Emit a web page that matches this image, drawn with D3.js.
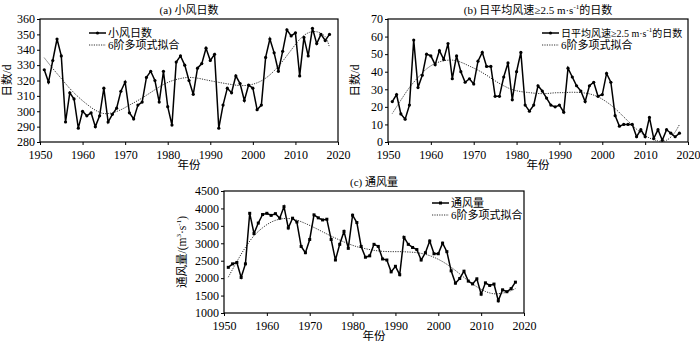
<!DOCTYPE html>
<html><head><meta charset="utf-8">
<script src="https://cdn.jsdelivr.net/npm/d3@7"></script>
<style>
body{margin:0;background:#fff;}
svg{font-family:"Liberation Serif","Noto Sans CJK SC",serif;}
</style></head>
<body><svg id="c" width="700" height="345"></svg>
<script>
const years = d3.range(1951, 2019);
const xTicks = [1950,1960,1970,1980,1990,2000,2010,2020];

const calmDays = [327,319,333,347,336,293,312,308,289,300,297,299,290,297,315,293,298,302,313,319,
299,295,304,306,322,326,320,306,326,303,291,332,336,330,320,311,328,331,341,333,
337,289,304,315,312,323,318,307,317,315,301,304,335,347,338,326,339,353,349,351,
323,348,336,354,344,350,346,350];
const calmFitYears = [1951,1953,1955,1957,1959,1961,1963,1965,1967,1969,1971,1973,1975,1977,1979,1981,1983,1985,1987,1989,1991,1993,1995,1997,1999,2001,2003,2005,2007,2009,2011,2013,2015,2017,2018];
const calmFit = [334.8,327.8,321.3,314.8,309.3,304.6,300.7,298.5,299,301,304,307,310.4,314,317.4,319.8,321.3,322,321.5,320.4,319.3,318.3,317.4,316.7,317,318.5,321.5,326.3,332.6,339.8,346.7,351,351.7,348.5,341.5];
const calmTicks = [280,290,300,310,320,330,340,350,360];

const windyDays = [23,27,16,13,21,58,31,38,50,49,44,52,47,56,36,49,40,34,36,33,
46,51,43,43,26,26,37,45,24,40,51,21,17.5,21,32,29,25,21,20,21,
17,42,37,32,29,23,32,34,26,27,39,34,15,9,10,10,10,3,7,3,
14,2,7,1,7,5,3,5];
const windyFitYears = [1951,1953,1955,1957,1959,1961,1963,1965,1967,1969,1971,1973,1975,1977,1979,1981,1983,1985,1987,1989,1991,1993,1995,1997,1999,2001,2003,2005,2007,2009,2011,2013,2014,2015,2016,2017,2018];
const windyFit = [16.2,23.8,31,36.7,41.6,44.7,46.2,46.6,45.4,43.2,40.9,38,34.8,32,29.8,28.7,28.1,27.6,27.6,28,28.1,28.3,28.1,27.4,25.7,22.8,19,14.3,9.5,5.3,2.3,0.6,0.2,1,2.8,5.7,9.9];
const windyTicks = [0,10,20,30,40,50,60,70];

const ventilation = [2310,2410,2450,2020,2410,3860,3280,3580,3825,3860,3800,3850,3720,4050,3440,3720,3610,2910,2730,3110,
3815,3730,3670,3690,3110,2520,2970,3340,2855,3805,3595,2910,2600,2640,2970,2910,2550,2520,2180,2340,
2100,3170,2970,2880,2820,2520,2730,3065,2700,2700,3005,2760,2210,1855,1990,2200,1915,1835,1980,1540,
1865,1790,1830,1350,1665,1610,1700,1885];
const ventFitYears = [1951,1953,1955,1957,1959,1961,1963,1965,1967,1969,1971,1973,1975,1977,1979,1981,1983,1985,1987,1989,1991,1993,1995,1997,1999,2001,2003,2005,2007,2009,2011,2013,2015,2016,2017,2018];
const ventFit = [2027,2474,2883,3216,3444,3606,3692,3711,3663,3568,3454,3330,3206,3092,2988,2902,2845,2798,2769,2760,2760,2750,2731,2683,2598,2474,2312,2122,1922,1751,1618,1551,1570,1600,1640,1700];
const ventTicks = [1000,1500,2000,2500,3000,3500,4000,4500];

const svg = d3.select("#c");

function panel(o){
  const g = svg.append("g");
  const x = d3.scaleLinear().domain([1950,2020]).range([o.x0,o.x1]);
  const y = d3.scaleLinear().domain([o.yTicks[0],o.yTicks[o.yTicks.length-1]]).range([o.y1,o.y0]);
  const xa = g.append("g").attr("transform",`translate(0,${o.y1})`)
    .call(d3.axisBottom(x).tickValues(xTicks).tickFormat(d3.format("d")).tickSize(3).tickPadding(5));
  const ya = g.append("g").attr("transform",`translate(${o.x0},0)`)
    .call(d3.axisLeft(y).tickValues(o.yTicks).tickFormat(d3.format("d")).tickSize(3).tickPadding(2));
  [xa,ya].forEach(a=>{
    a.select(".domain").remove();
    a.selectAll("text").attr("font-size",12).attr("fill","#000").attr("font-family","Liberation Serif");
    a.selectAll("line").attr("stroke","#000");
  });
  g.append("rect").attr("x",o.x0).attr("y",o.y0).attr("width",o.x1-o.x0).attr("height",o.y1-o.y0)
    .attr("fill","none").attr("stroke","#000").attr("stroke-width",1.2);
  const fitLine = d3.line().x(d=>x(d[0])).y(d=>y(d[1])).curve(d3.curveCatmullRom);
  g.append("path").datum(o.fitYears.map((yy,i)=>[yy,o.fit[i]])).attr("d",fitLine)
    .attr("fill","none").attr("stroke","#333").attr("stroke-width",1).attr("stroke-dasharray","1.2,1.2");
  const line = d3.line().x((d,i)=>x(years[i])).y(d=>y(d));
  g.append("path").datum(o.data).attr("d",line).attr("fill","none").attr("stroke","#000").attr("stroke-width",1.5);
  if(o.square){
    g.selectAll(".m").data(o.data).enter().append("rect")
      .attr("x",(d,i)=>x(years[i])-1.5).attr("y",d=>y(d)-1.5).attr("width",3).attr("height",3).attr("fill","#000");
  } else {
    g.selectAll(".m").data(o.data).enter().append("circle")
      .attr("cx",(d,i)=>x(years[i])).attr("cy",d=>y(d)).attr("r",1.6).attr("fill","#000");
  }
  const t = g.append("text").attr("x",(o.x0+o.x1)/2).attr("y",o.y0-5).attr("text-anchor","middle").attr("font-size",11);
  o.title(t);
  g.append("text").attr("x",(o.x0+o.x1)/2).attr("y",o.y1+27).attr("text-anchor","middle").attr("font-size",11.5).text("年份");
  const yl = g.append("text").attr("transform",`translate(${o.ylx},${(o.y0+o.y1)/2}) rotate(-90)`)
    .attr("text-anchor","middle").attr("font-size",11.5);
  o.ylabel(yl);
  const lx = o.lx, ly = o.ly;
  g.append("line").attr("x1",lx).attr("x2",lx+17).attr("y1",ly).attr("y2",ly).attr("stroke","#000").attr("stroke-width",1.5);
  if(o.square) g.append("rect").attr("x",lx+7).attr("y",ly-1.5).attr("width",3).attr("height",3);
  else g.append("circle").attr("cx",lx+8.5).attr("cy",ly).attr("r",1.6);
  const lt = g.append("text").attr("x",lx+19).attr("y",ly+4).attr("font-size",o.lfs || 11);
  o.legend(lt);
  g.append("line").attr("x1",lx).attr("x2",lx+17).attr("y1",ly+12).attr("y2",ly+12).attr("stroke","#333").attr("stroke-width",1).attr("stroke-dasharray","1.2,1.2");
  g.append("text").attr("x",lx+19).attr("y",ly+16).attr("font-size",11).text("6阶多项式拟合");
}

function windText(t, pre){
  t.append("tspan").text(pre+"≥2.5 m·s");
  t.append("tspan").attr("font-size",7).attr("dy",-5).text("-1");
  t.append("tspan").attr("dy",5).text("的日数");
}

panel({x0:40,x1:338,y0:19,y1:142,yTicks:calmTicks,data:calmDays,fitYears:calmFitYears,fit:calmFit,
  title:t=>t.text("(a) 小风日数"), ylx:11, ylabel:t=>t.text("日数/d"),
  lx:89, ly:33, legend:t=>t.text("小风日数")});

panel({x0:388,x1:688,y0:19,y1:142,yTicks:windyTicks,data:windyDays,fitYears:windyFitYears,fit:windyFit,
  title:t=>windText(t,"(b) 日平均风速"), ylx:359, ylabel:t=>t.text("日数/d"),
  lx:542, ly:33, lfs:10, legend:t=>windText(t,"日平均风速")});

panel({x0:224,x1:524,y0:191,y1:313,yTicks:ventTicks,data:ventilation,fitYears:ventFitYears,fit:ventFit,square:true,
  title:t=>t.text("(c) 通风量"), ylx:186, ylabel:t=>{
    t.append("tspan").text("通风量/(m");
    t.append("tspan").attr("font-size",7).attr("dy",-5).text("3");
    t.append("tspan").attr("dy",5).text("·s");
    t.append("tspan").attr("font-size",7).attr("dy",-5).text("-1");
    t.append("tspan").attr("dy",5).text(")");
  },
  lx:432, ly:203, legend:t=>t.text("通风量")});
</script></body></html>
